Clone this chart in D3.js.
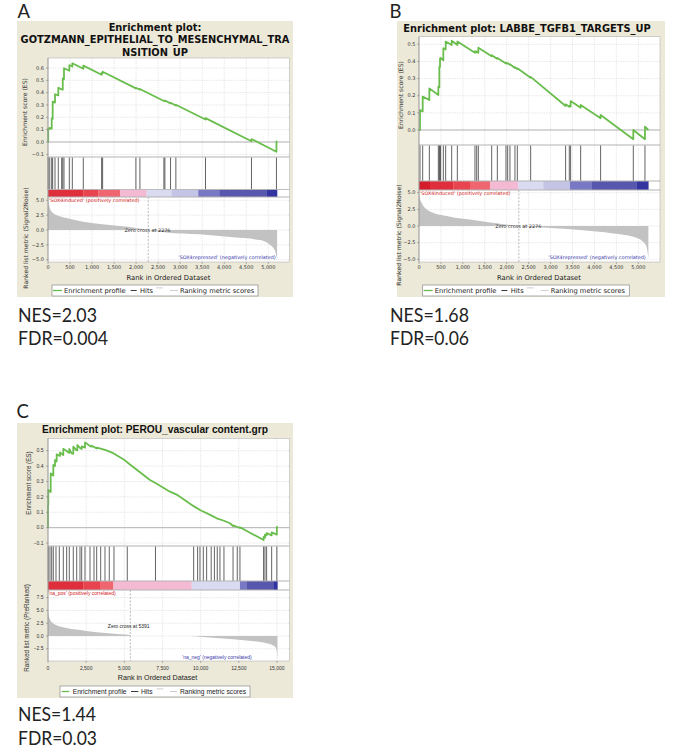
<!DOCTYPE html>
<html><head><meta charset="utf-8">
<script src="https://cdn.jsdelivr.net/npm/d3@7/dist/d3.min.js"></script>
<style>body{margin:0;background:#fff}</style>
</head><body>
<svg id="c" width="694" height="751"></svg>
<script>
// ---------------- DATA ----------------
const legendItems = ["Enrichment profile", "Hits", "Ranking metric scores"];

// Panel A
const titleA = ["Enrichment plot:", "GOTZMANN_EPITHELIAL_TO_MESENCHYMAL_TRA", "NSITION_UP"];
const esA = [[0,0],[5,0],[5,0.111],[40,0.105],[40,0.115],[84,0.108],[84,0.192],[106,0.188],[106,0.327],[159,0.32],[159,0.387],[234,0.378],[234,0.44],[310,0.427],[335,0.424],[335,0.516],[363,0.511],[363,0.598],[484,0.578],[484,0.624],[552,0.612],[552,0.638],[801,0.594],[801,0.619],[1217,0.545],[1217,0.56],[1240,0.556],[1240,0.57],[1995,0.435],[1995,0.44],[2086,0.424],[2086,0.43],[2630,0.332],[2630,0.336],[2653,0.332],[2653,0.336],[2781,0.313],[2781,0.318],[2902,0.296],[2902,0.302],[3575,0.182],[3575,0.194],[4618,0.006],[4618,0.024],[5185,-0.079],[5185,0.005],[5200,0]];
const hitsA = [5,40,84,106,159,234,310,335,363,484,552,801,1217,1240,1995,2086,2630,2653,2781,2902,3575,4618,5185];
const metricA = [[0,5.0],[20,4.3],[45,3.6],[121,2.8],[250,2.35],[423,2.0],[800,1.4],[1180,1.0],[1633,0.67],[2000,0.35],[2276,0],[2690,-0.4],[3447,-0.73],[4202,-1.24],[4807,-1.7],[5034,-2.5],[5147,-3.4],[5200,-5.0]];
const barBreaksA = [0,801,1141,1633,2237,2804,3410,3900,4959,5200];
const barLevelsA = [5,4,3,1,-1,-2,-3,-4,-5];
const xTicksA = [0,500,1000,1500,2000,2500,3000,3500,4000,4500,5000];
const esTicksA = [-0.1,0,0.1,0.2,0.3,0.4,0.5,0.6];
const mTicksA = [-5,-2.5,0,2.5,5];
const zeroCrossA = 2276;
const posLabelA = "'SOX4induced' (positively correlated)";
const negLabelA = "'SOX4repressed' (negatively correlated)";
const metricNameA = "Ranked list metric (Signal2Noise)";
const statsA = ["NES=2.03", "FDR=0.004"];

// Panel B
const titleB = ["Enrichment plot: LABBE_TGFB1_TARGETS_UP"];
const esB = [[0,0],[23,0],[23,0.117],[84,0.108],[84,0.195],[236,0.175],[236,0.243],[441,0.204],[441,0.253],[464,0.25],[464,0.37],[479,0.368],[479,0.418],[494,0.415],[494,0.42],[555,0.407],[555,0.477],[608,0.47],[608,0.516],[745,0.496],[745,0.521],[874,0.496],[874,0.516],[1276,0.451],[1276,0.46],[1315,0.452],[1315,0.458],[1353,0.451],[1353,0.48],[1657,0.43],[1657,0.436],[1786,0.415],[1786,0.42],[1983,0.388],[1983,0.393],[2022,0.386],[2022,0.39],[2074,0.38],[2074,0.384],[2188,0.362],[2188,0.366],[2242,0.355],[2242,0.36],[2546,0.305],[2546,0.31],[3343,0.14],[3343,0.15],[3427,0.135],[3427,0.142],[3457,0.137],[3457,0.169],[3686,0.13],[3686,0.146],[4141,0.068],[4141,0.088],[4886,-0.054],[4886,0.0],[5152,-0.054],[5152,0.019],[5230,0.0]];
const hitsB = [23,84,236,441,464,479,494,555,608,745,874,1276,1315,1353,1657,1786,1983,2022,2074,2188,2242,2546,3343,3427,3457,3686,4141,4886,5152];
const metricB = [[0,5.0],[20,4.2],[61,3.45],[251,2.19],[631,1.52],[1010,1.07],[1390,0.76],[1770,0.41],[2264,0],[2910,-0.25],[3670,-0.61],[4430,-1.12],[4886,-1.63],[5114,-2.39],[5190,-3.15],[5230,-4.93]];
const barBreaksB = [0,251,783,1163,1618,2264,2834,3442,3936,4962,5230];
const barLevelsB = [6,5,4,3,1,-1,-2,-3,-4,-5];
const xTicksB = [0,500,1000,1500,2000,2500,3000,3500,4000,4500,5000];
const esTicksB = [0,0.1,0.2,0.3,0.4,0.5];
const mTicksB = [-5,-2.5,0,2.5,5];
const zeroCrossB = 2276;
const posLabelB = "'SOX4induced' (positively correlated)";
const negLabelB = "'SOX4repressed' (negatively correlated)";
const metricNameB = "Ranked list metric (Signal2Noise)";
const statsB = ["NES=1.68", "FDR=0.06"];

// Panel C
const titleC = ["Enrichment plot: PEROU_vascular content.grp"];
const esC = [[0,0],[0,0.147],[20,0.145],[20,0.245],[131,0.234],[175,0.232],[175,0.353],[306,0.342],[347,0.338],[347,0.407],[458,0.40],[458,0.44],[524,0.433],[568,0.43],[568,0.476],[742,0.468],[786,0.466],[786,0.489],[939,0.476],[1002,0.472],[1002,0.512],[1222,0.498],[1332,0.489],[1395,0.486],[1395,0.511],[1550,0.483],[1657,0.48],[1657,0.526],[1834,0.505],[1921,0.502],[1921,0.537],[2096,0.518],[2207,0.511],[2207,0.528],[2423,0.52],[2423,0.554],[2751,0.53],[2860,0.526],[2860,0.532],[3189,0.515],[3189,0.52],[3451,0.513],[3733,0.505],[3951,0.497],[4278,0.484],[4933,0.445],[5370,0.41],[6680,0.31],[7040,0.29],[7990,0.234],[8428,0.215],[9540,0.14],[9954,0.115],[10690,0.08],[11048,0.061],[11526,0.045],[11918,0.029],[12120,0.01],[12120,0.015],[12574,-0.002],[12574,0.003],[14120,-0.08],[14120,-0.06],[14211,-0.065],[14211,-0.045],[14320,-0.05],[14320,-0.035],[14650,-0.05],[14650,-0.03],[14990,-0.045],[14990,0.005],[15030,0.0]];
const hitsC = [20,131,242,347,524,740,1002,1222,1395,1657,1880,2096,2207,2423,2751,3013,3189,3451,3733,4014,4322,5193,7040,9540,9800,9954,10173,10391,10690,10900,11087,11264,11526,12120,12397,12574,14120,14211,14320,14650,14990];
const metricC = [[0,4.75],[40,4.1],[131,3.25],[349,2.47],[1004,1.69],[2096,1.17],[3187,0.71],[4715,0.32],[5380,0.18],[5391,0],[9200,0],[9954,-0.13],[11264,-0.45],[13010,-0.9],[14320,-1.43],[14866,-2.08],[14990,-3.05],[15030,-4.7]];
const barBreaksC = [0,2314,3405,4278,9410,12574,13010,14757,15030];
const barLevelsC = [5,4,3,1,-1,-3,-4,-5];
const xTicksC = [0,2500,5000,7500,10000,12500,15000];
const esTicksC = [-0.1,0,0.1,0.2,0.3,0.4,0.5];
const mTicksC = [-2.5,0,2.5,5,7.5];
const zeroCrossC = 5391;
const posLabelC = "'na_pos' (positively correlated)";
const negLabelC = "'na_neg' (negatively correlated)";
const metricNameC = "Ranked list metric (PreRanked)";
const statsC = ["NES=1.44", "FDR=0.03"];

const panelLetters = ["A", "B", "C"];

// ---------------- STYLE / LAYOUT ----------------
const levelColor = {6:"#d41c2c",5:"#df2f3c",4:"#e8444f",3:"#ef6670",2:"#f28a92",1:"#f5bad3",
  "-1":"#dadaf0","-2":"#c4c4e6","-3":"#7878c4","-4":"#5757ae","-5":"#3434a0"};
const GREEN = "#69bd4c";

const LA = {font:"DejaVu Sans", box:[17,21,276,276], titleX:155, titleY:[30.7,43.3,56], titleSize:9.85,
  px0:48, pxLast:268.3, px1:289.5, esTop:58, esBot:157, es0:142, esRef:[0.6,68],
  hitTop:157, barTop:189.5, barBot:197, mTop:197, mBot:262, m0:230, mRef:[5,200.3],
  tickLabR:44, tickSize:5, xTickY:269, rankY:279.5, rankX:168.5, rankSize:6.8,
  esLab:[27,112], mLab:[28,238], axLabSize:6.1,
  pos:[49,202.4], neg:[275.7,259.4], zc:[147.5,231.8], annSize:4.9,
  leg:{box:[52,285,206,11], g:[1,10], t1:12, h:[78.7,84.7], t2:88, r1:[104,111], r2:[118,126], t3:128, size:6.7},
  letter:[17.5,18.4], stats:[18,322,345], statW:[79,90]};
const LB = {font:"DejaVu Sans", box:[397,21,268,276], titleX:527, titleY:[31.7], titleSize:9.85,
  px0:419, pxLast:638.3, px1:660, esTop:36.7, esBot:145, es0:130, esRef:[0.5,44.3],
  hitTop:145, barTop:181, barBot:190, mTop:190, mBot:262, m0:226, mRef:[5,192.7],
  tickLabR:415.5, tickSize:5, xTickY:269, rankY:279.5, rankX:539, rankSize:6.8,
  esLab:[402.7,95], mLab:[401.3,235], axLabSize:6.1,
  pos:[420,195], neg:[645.7,259.4], zc:[518.3,227.8], annSize:4.9,
  leg:{box:[422.7,285,206.6,11], g:[1,10], t1:12, h:[78.7,84.7], t2:88, r1:[104,111], r2:[118,126], t3:128, size:6.7},
  letter:[389.5,18.2], stats:[390,322,345], statW:[79,79]};
const LC = {font:"Liberation Sans", box:[17,423,276,275], titleX:155, titleY:[433.4], titleSize:10.2,
  px0:48, pxLast:277, px1:289.5, esTop:438.3, esBot:546, es0:527.7, esRef:[0.5,450.7],
  hitTop:546, barTop:581, barBot:590, mTop:590, mBot:661, m0:636, mRef:[7.5,597.7],
  tickLabR:43.5, tickSize:5, xTickY:669.6, rankY:679.6, rankX:157.5, rankSize:7.2,
  esLab:[31.3,483], mLab:[28.5,628], axLabSize:6.3,
  pos:[48.5,595.2], neg:[251.7,659], zc:[128.7,627.6], annSize:5,
  leg:{box:[60,686,190,11], g:[1.7,9.3], t1:12.7, h:[71,78.3], t2:81, r1:[96.7,103.3], r2:[110,116.7], t3:120, size:6.7},
  letter:[16.5,418.4], stats:[18,720.5,745], statW:[78,79]};

const svg = d3.select("#c");

function drawPanel(D, L, letter) {
  const g = svg.append("g");
  const F = L.font;
  g.append("rect").attr("x",L.box[0]).attr("y",L.box[1]).attr("width",L.box[2]).attr("height",L.box[3]).attr("fill","#ece9d8");
  D.title.forEach((t,i) => {
    g.append("text").attr("x",L.titleX).attr("y",L.titleY[i]).attr("text-anchor","middle")
      .attr("font-family",F).attr("font-weight","bold").attr("font-size",L.titleSize).attr("fill","#111").text(t);
  });
  const x = d3.scaleLinear().domain([0, D.xTicks[D.xTicks.length-1]]).range([L.px0, L.pxLast]);
  const yE = d3.scaleLinear().domain([0, L.esRef[0]]).range([L.es0, L.esRef[1]]);
  const yM = d3.scaleLinear().domain([0, L.mRef[0]]).range([L.m0, L.mRef[1]]);
  const W = L.px1 - L.px0;

  g.append("rect").attr("x",L.px0).attr("y",L.esTop).attr("width",W).attr("height",L.mBot-L.esTop).attr("fill","#fff");

  // grid
  const grid = g.append("g").attr("stroke","#d2d2d2").attr("stroke-width",0.6).attr("stroke-dasharray","1.2,1.2");
  D.xTicks.slice(1).forEach(t => {
    [[L.esTop,L.esBot],[L.hitTop,L.barTop],[L.mTop,L.mBot]].forEach(([a,b]) =>
      grid.append("line").attr("x1",x(t)).attr("x2",x(t)).attr("y1",a).attr("y2",b));
  });
  D.esTicks.forEach(t => { if (t !== 0) grid.append("line").attr("x1",L.px0).attr("x2",L.px1).attr("y1",yE(t)).attr("y2",yE(t)); });
  D.mTicks.forEach(t => grid.append("line").attr("x1",L.px0).attr("x2",L.px1).attr("y1",yM(t)).attr("y2",yM(t)));

  // ES zero line
  g.append("line").attr("x1",L.px0).attr("x2",L.px1).attr("y1",yE(0)).attr("y2",yE(0)).attr("stroke","#9a9a9a").attr("stroke-width",0.8);

  // ranked metric
  g.append("path").datum(D.metric)
    .attr("d", d3.area().x(d=>x(d[0])).y0(yM(0)).y1(d=>yM(d[1])).curve(d3.curveMonotoneX))
    .attr("fill","#c2c2c2");

  // zero cross
  g.append("line").attr("x1",x(D.zeroCross)).attr("x2",x(D.zeroCross)).attr("y1",L.mTop).attr("y2",L.mBot)
    .attr("stroke","#8a8a8a").attr("stroke-width",0.6).attr("stroke-dasharray","2,1.5");

  // hits
  g.append("g").selectAll("line").data(D.hits).join("line")
    .attr("x1",d=>x(d)).attr("x2",d=>x(d)).attr("y1",L.hitTop+0.3).attr("y2",L.barTop)
    .attr("stroke","#333").attr("stroke-width",0.9).attr("stroke-opacity",0.85);

  // color bar
  g.append("g").selectAll("rect").data(D.barLevels).join("rect")
    .attr("x",(d,i)=>x(D.barBreaks[i])).attr("width",(d,i)=>x(D.barBreaks[i+1])-x(D.barBreaks[i])+0.2)
    .attr("y",L.barTop).attr("height",L.barBot-L.barTop).attr("fill",d=>levelColor[d]);

  // ES curve
  g.append("path").datum(D.es).attr("d", d3.line().x(d=>x(d[0])).y(d=>yE(d[1])))
    .attr("fill","none").attr("stroke",GREEN).attr("stroke-width",1.8).attr("stroke-linejoin","round");

  // borders
  const bd = g.append("g").attr("fill","none").attr("stroke","#b4b4b4").attr("stroke-width",0.6);
  [[L.esTop,L.esBot],[L.hitTop,L.barTop],[L.barTop,L.barBot],[L.mTop,L.mBot]].forEach(([a,b]) =>
    bd.append("rect").attr("x",L.px0).attr("y",a).attr("width",W).attr("height",b-a));
  g.append("line").attr("x1",L.px0).attr("x2",L.px0).attr("y1",L.esTop).attr("y2",L.mBot).attr("stroke","#8c8c8c").attr("stroke-width",0.7);

  // ticks and labels
  const tf = d3.format(".1f"), xf = d3.format(",");
  const tk = g.append("g").attr("font-family",F).attr("font-size",L.tickSize).attr("fill","#333");
  D.esTicks.forEach(t => {
    g.append("line").attr("x1",L.px0-2).attr("x2",L.px0).attr("y1",yE(t)).attr("y2",yE(t)).attr("stroke","#777").attr("stroke-width",0.5);
    tk.append("text").attr("x",L.tickLabR).attr("y",yE(t)+1.7).attr("text-anchor","end").text(tf(t));
  });
  D.mTicks.forEach(t => {
    g.append("line").attr("x1",L.px0-2).attr("x2",L.px0).attr("y1",yM(t)).attr("y2",yM(t)).attr("stroke","#777").attr("stroke-width",0.5);
    tk.append("text").attr("x",L.tickLabR).attr("y",yM(t)+1.7).attr("text-anchor","end").text(tf(t));
  });
  D.xTicks.forEach(t => {
    g.append("line").attr("x1",x(t)).attr("x2",x(t)).attr("y1",L.mBot).attr("y2",L.mBot+2).attr("stroke","#777").attr("stroke-width",0.5);
    tk.append("text").attr("x",x(t)).attr("y",L.xTickY).attr("text-anchor","middle").text(xf(t));
  });

  g.append("text").attr("x",L.rankX).attr("y",L.rankY).attr("text-anchor","middle").attr("font-family",F)
    .attr("font-size",L.rankSize).attr("fill","#222").text("Rank in Ordered Dataset");
  g.append("text").attr("transform",`translate(${L.esLab[0]},${L.esLab[1]}) rotate(-90)`).attr("text-anchor","middle")
    .attr("font-family",F).attr("font-size",L.axLabSize).attr("fill","#333").text("Enrichment score (ES)");
  g.append("text").attr("transform",`translate(${L.mLab[0]},${L.mLab[1]}) rotate(-90)`).attr("text-anchor","middle")
    .attr("font-family",F).attr("font-size",L.axLabSize).attr("fill","#333").text(D.metricName);

  // annotations
  g.append("text").attr("x",L.pos[0]).attr("y",L.pos[1]).attr("font-family",F).attr("font-size",L.annSize).attr("fill","#d42020").text(D.posLabel);
  g.append("text").attr("x",L.neg[0]).attr("y",L.neg[1]).attr("text-anchor","end").attr("font-family",F).attr("font-size",L.annSize).attr("fill","#3a3aaa").text(D.negLabel);
  g.append("text").attr("x",L.zc[0]).attr("y",L.zc[1]).attr("text-anchor","middle").attr("font-family",F).attr("font-size",L.annSize).attr("fill","#222").text("Zero cross at " + D.zeroCross);

  // legend
  const lg = L.leg, [lx,ly,lw,lh] = lg.box, cy = ly + lh/2;
  g.append("rect").attr("x",lx).attr("y",ly).attr("width",lw).attr("height",lh).attr("fill","#fff").attr("stroke","#8a8a8a").attr("stroke-width",0.7);
  g.append("line").attr("x1",lx+lg.g[0]).attr("x2",lx+lg.g[1]).attr("y1",cy).attr("y2",cy).attr("stroke",GREEN).attr("stroke-width",1.3);
  g.append("line").attr("x1",lx+lg.h[0]).attr("x2",lx+lg.h[1]).attr("y1",cy).attr("y2",cy).attr("stroke","#222").attr("stroke-width",0.9);
  g.append("line").attr("x1",lx+lg.r1[0]).attr("x2",lx+lg.r1[1]).attr("y1",cy-2.6).attr("y2",cy-2.6).attr("stroke","#c8c8c8").attr("stroke-width",0.9);
  g.append("line").attr("x1",lx+lg.r2[0]).attr("x2",lx+lg.r2[1]).attr("y1",cy).attr("y2",cy).attr("stroke","#c8c8c8").attr("stroke-width",0.9);
  [[lg.t1,legendItems[0]],[lg.t2,legendItems[1]],[lg.t3,legendItems[2]]].forEach(([o,t]) =>
    g.append("text").attr("x",lx+o).attr("y",cy+2.4).attr("font-family",F).attr("font-size",lg.size).attr("fill","#222").text(t));

  // letter & stats
  svg.append("text").attr("x",L.letter[0]).attr("y",L.letter[1]).attr("font-family","Lato").attr("font-size",18.5).attr("fill","#222").text(letter);
  D.stats.forEach((s,i) => svg.append("text").attr("x",L.stats[0]).attr("y",L.stats[1+i]).attr("font-family","Lato")
    .attr("font-size",20).attr("fill","#222").attr("textLength",L.statW[i]).attr("lengthAdjust","spacingAndGlyphs").text(s));
}

drawPanel({title:titleA, es:esA, hits:hitsA, metric:metricA, barBreaks:barBreaksA, barLevels:barLevelsA,
  xTicks:xTicksA, esTicks:esTicksA, mTicks:mTicksA, zeroCross:zeroCrossA, posLabel:posLabelA, negLabel:negLabelA,
  metricName:metricNameA, stats:statsA}, LA, panelLetters[0]);
drawPanel({title:titleB, es:esB, hits:hitsB, metric:metricB, barBreaks:barBreaksB, barLevels:barLevelsB,
  xTicks:xTicksB, esTicks:esTicksB, mTicks:mTicksB, zeroCross:zeroCrossB, posLabel:posLabelB, negLabel:negLabelB,
  metricName:metricNameB, stats:statsB}, LB, panelLetters[1]);
drawPanel({title:titleC, es:esC, hits:hitsC, metric:metricC, barBreaks:barBreaksC, barLevels:barLevelsC,
  xTicks:xTicksC, esTicks:esTicksC, mTicks:mTicksC, zeroCross:zeroCrossC, posLabel:posLabelC, negLabel:negLabelC,
  metricName:metricNameC, stats:statsC}, LC, panelLetters[2]);
</script>
</body></html>
